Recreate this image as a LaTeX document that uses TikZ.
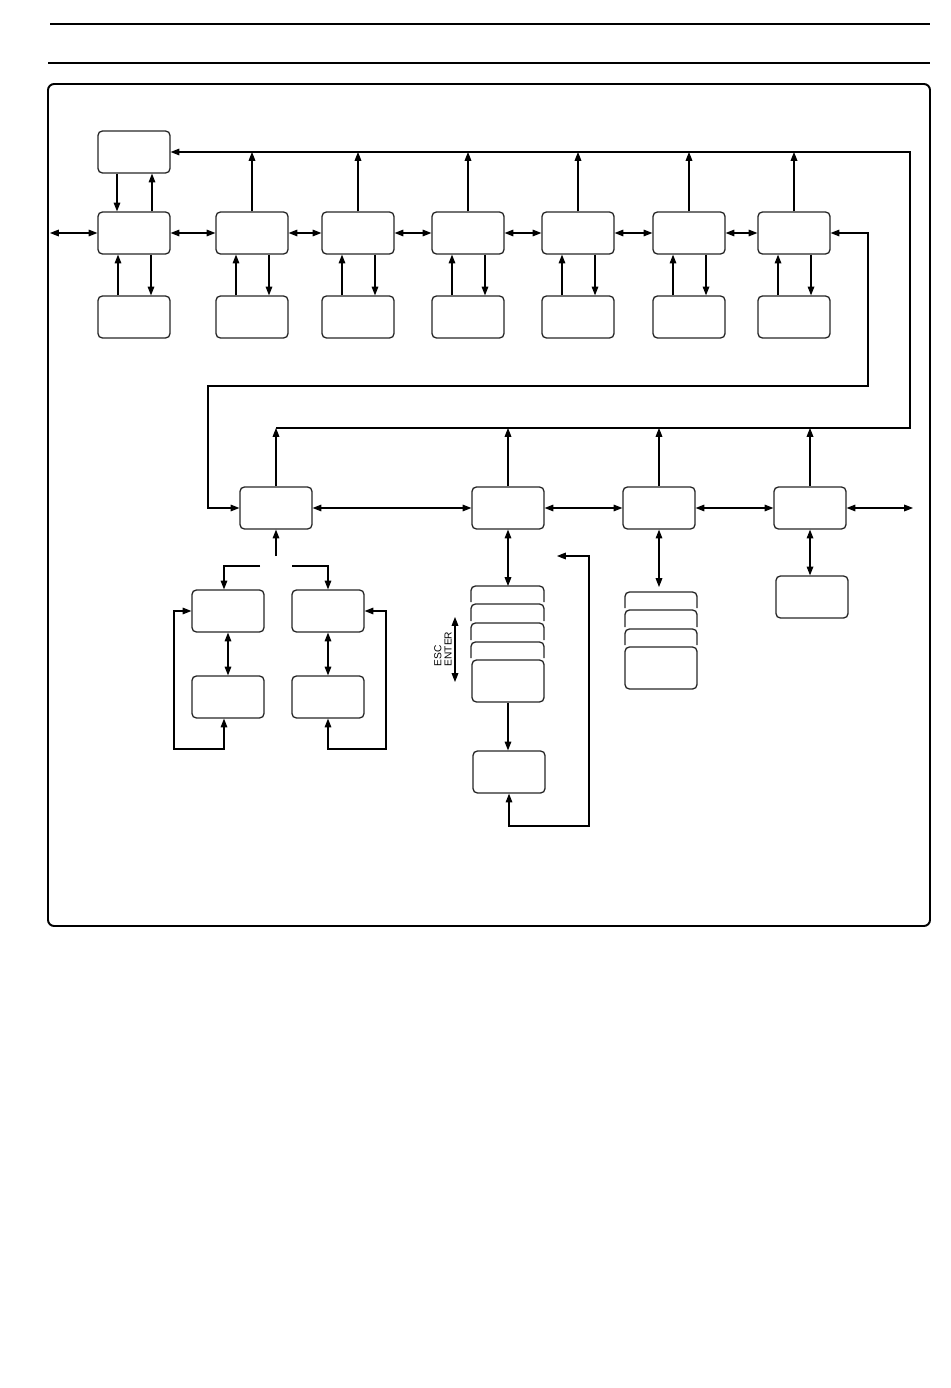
\documentclass[tikz,border=0pt]{standalone}
\usepackage{fontspec}
\newfontfamily\escfont{Liberation Sans}
\usetikzlibrary{arrows.meta}
\def\u{0.02cm}

\begin{document}
\begin{tikzpicture}[
		x=0.02cm, y=-0.02cm,
		box/.style={draw=black!85, line width=0.75pt, rounded corners=2.5pt, minimum width=72*\u, minimum height=42*\u, inner sep=0pt},
		card/.style={draw=black!85, line width=0.75pt, rounded corners=2.5pt},
		arr/.style={-{Triangle[length=5pt,width=3.8pt]}, line width=0.6pt},
		dbl/.style={{Triangle[length=5pt,width=3.8pt]}-{Triangle[length=5pt,width=3.8pt]}, line width=0.6pt}
	]
	\useasboundingbox (0,0) rectangle (950,1388);
	% page rules and frame
	\draw[line width=1.6pt] (50,24) -- (930,24);
	\draw[line width=1.6pt] (48,63) -- (930,63);
	\draw[line width=1.1pt, rounded corners=3.5pt] (48,84) rectangle (930,926);

	% top row
	\node[box] (T0) at (134,152) {};
	\foreach \x [count=\i] in {134,252,358,468,578,689,794} {
			\node[box] (A\i) at (\x,233) {};
			\node[box] (B\i) at (\x,317) {};
			\draw[arr] ([xshift=-16*\u]B\i.north) -- ([xshift=-16*\u]A\i.south);
			\draw[arr] ([xshift=17*\u]A\i.south) -- ([xshift=17*\u]B\i.north);
		}
	\foreach \i [count=\j from 2] in {1,...,6}
		\draw[dbl] (A\i.east) -- (A\j.west);
	\foreach \i in {2,...,7}
		\draw[arr] (A\i.north) -- (A\i |- T0);
	\draw[arr] ([xshift=-17*\u]T0.south) -- ([xshift=-17*\u]A1.north);
	\draw[arr] ([xshift=18*\u]A1.north) -- ([xshift=18*\u]T0.south);
	\coordinate (inL) at (50,233);
	\draw[dbl] (inL) -- (A1.west);

	% middle row
	\node[box] (C1) at (276,508) {};
	\node[box] (C2) at (508,508) {};
	\node[box] (C3) at (659,508) {};
	\node[box] (C4) at (810,508) {};
	\foreach \i [count=\j from 2] in {1,2,3}
		\draw[dbl] (C\i.east) -- (C\j.west);
	\coordinate (outR) at (913,508);
	\draw[dbl] (C4.east) -- (outR);

	% bus lines
	\coordinate (busT) at (910,152);
	\coordinate (busB) at (910,428);
	\draw[arr] (C1 |- busB) -- (busB) -- (busT) -- (T0.east);
	\foreach \i in {1,...,4}
		\draw[arr] (C\i.north) -- (C\i |- busB);
	\coordinate (lpR) at (868,386);
	\coordinate (lpL) at (208,386);
	\draw[dbl] (A7.east) -- (A7 -| lpR) -- (lpR) -- (lpL) -- (lpL |- C1) -- (C1.west);

	% branch below C1
	\node[box] (D1) at (228,611) {};
	\node[box] (D2) at (328,611) {};
	\node[box] (E1) at (228,697) {};
	\node[box] (E2) at (328,697) {};
	\coordinate (sp) at (276,556);
	\coordinate (spL) at (260,566);
	\coordinate (spR) at (292,566);
	\draw[arr] (sp) -- (C1.south);
	\draw[arr] (spL) -| ([xshift=-4*\u]D1.north);
	\draw[arr] (spR) -| (D2.north);
	\draw[dbl] (D1.south) -- (E1.north);
	\draw[dbl] (D2.south) -- (E2.north);
	\coordinate (ebL) at (174,749);
	\coordinate (ebR) at (386,749);
	\draw[dbl] ([xshift=-4*\u]E1.south) |- (ebL) |- (D1.west);
	\draw[dbl] (E2.south) |- (ebR) |- (D2.east);

	% stack below C2
	\coordinate (s1) at (508,586);
	\draw[dbl] (C2.south) -- (s1);
	\foreach \t/\b in {586/602, 604/621, 623/640, 642/658}
		\draw[card] (471,\b) |- (508,\t) -| (544,\b);
	\node[box] (S1) at (508,681) {};
	\node[box] (F) at (509,772) {};
	\draw[arr] (S1.south) -- (S1.south |- F.north);
	\coordinate (fbR) at (589,826);
	\coordinate (fbT) at (557,556);
	\draw[dbl] (F.south) |- (fbR) |- (fbT);
	\node[rotate=90, align=left, inner sep=0pt, font=\escfont\fontsize{5.8}{5.8}\selectfont] (esc) at (443,649) {ESC\\ENTER};
	\coordinate (escT) at (455,617);
	\coordinate (escB) at (455,682);
	\draw[dbl] (escT) -- (escB);

	% stack below C3
	\coordinate (s2) at (659,587);
	\draw[dbl] (C3.south) -- (s2);
	\foreach \t/\b in {592/608, 610/627, 629/645}
		\draw[card] (625,\b) |- (661,\t) -| (697,\b);
	\node[box] (S2) at (661,668) {};

	% box below C4
	\node[box] (G) at (812,597) {};
	\draw[dbl] (C4.south) -- (C4.south |- G.north);
\end{tikzpicture}
\end{document}
